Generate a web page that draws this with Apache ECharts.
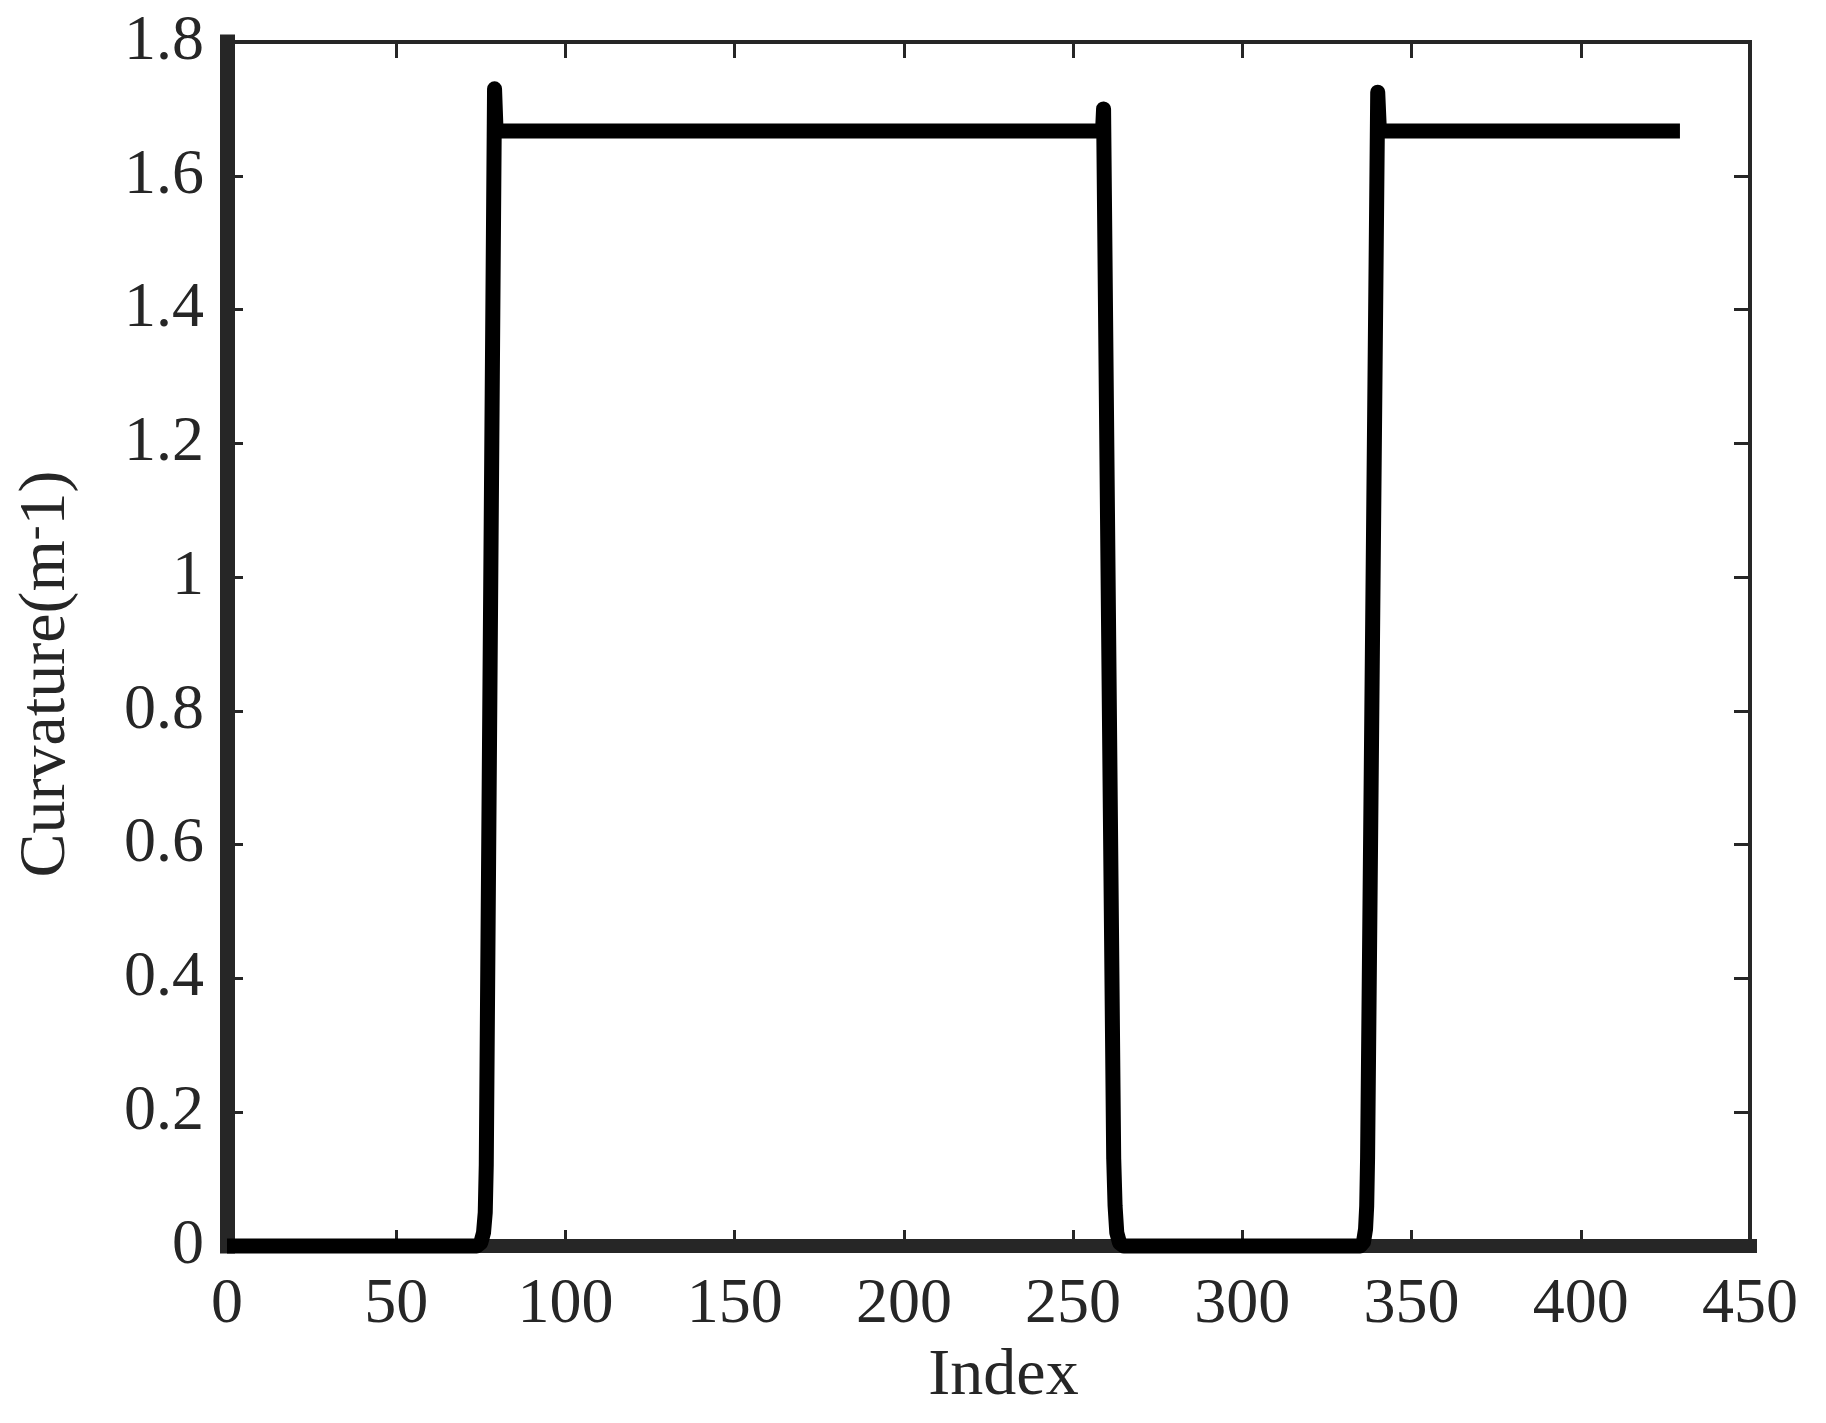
<!DOCTYPE html>
<html>
<head>
<meta charset="utf-8">
<script src="https://cdn.jsdelivr.net/npm/echarts@6/dist/echarts.min.js"></script>
<style>
	html,body{margin:0;padding:0;background:#fff;}
	#chart{width:1826px;height:1423px;}
</style>
</head>
<body>
<div id="chart"></div>
<script>
// 曲率数据 (index, curvature)
var indexData = [0, 73.8, 75.0, 75.8, 76.3, 76.6, 79.05, 79.5,
	258.7, 259.0, 262.0, 262.4, 262.9, 263.7, 265.0,
	334.8, 335.8, 336.4, 336.75, 337.0, 340.0, 340.5, 429.3];
var curvatureData = [0, 0, 0.005, 0.02, 0.05, 0.12, 1.73, 1.667,
	1.667, 1.70, 0.13, 0.06, 0.02, 0.005, 0,
	0, 0.006, 0.025, 0.06, 0.13, 1.725, 1.667, 1.667];
var xTickLabels = ['0', '50', '100', '150', '200', '250', '300', '350', '400', '450'];
var yTickLabels = ['0', '0.2', '0.4', '0.6', '0.8', '1', '1.2', '1.4', '1.6', '1.8'];

var axisColor = '#262626';
var fontFamily = '"Liberation Serif", "DejaVu Serif", serif';

function buildPoints(){
	var pts = [];
	for(var i = 0;i<indexData.length;i++){
		pts.push([indexData[i], curvatureData[i]]);
	}
	return pts;
}

function xAxisOpt(pos, lineW, showLabel){
	return {
		type: 'value',
		position: pos,
		min: 0,
		max: 450,
		interval: 50,
		name: showLabel ? 'Index' : '',
		nameLocation: 'middle',
		nameGap: 98,
		nameTextStyle: {color: axisColor, fontSize: 66, fontFamily: fontFamily, padding: [0, 0, 0, 30]},
		axisLine: {show: true, onZero: false, lineStyle: {color: axisColor, width: lineW, cap: 'square'}},
		axisTick: {show: true, inside: true, length: 16, lineStyle: {color: axisColor, width: 3}},
		axisLabel: {
			show: showLabel,
			margin: 27,
			color: axisColor,
			fontSize: 64,
			fontFamily: fontFamily,
			formatter: function(v, i){ return xTickLabels[i]; }
		},
		splitLine: {show: false}
	};
}

function yAxisOpt(pos, lineW, showLabel){
	return {
		type: 'value',
		position: pos,
		min: 0,
		max: 1.8,
		interval: 0.2,
		//上标负号用rich文本
		name: showLabel ? 'Curvature(m{sup|-}1)' : '',
		nameLocation: 'middle',
		nameGap: 147,
		nameTextStyle: {
			color: axisColor, fontSize: 66, fontFamily: fontFamily, padding: [0, 60, 0, 0],
			rich: {
				sup: {color: axisColor, fontSize: 44, fontFamily: fontFamily, verticalAlign: 'top', lineHeight: 40}
			}
		},
		axisLine: {show: true, onZero: false, lineStyle: {color: axisColor, width: lineW, cap: 'square'}},
		axisTick: {show: true, inside: true, length: 16, lineStyle: {color: axisColor, width: 3}},
		axisLabel: {
			show: showLabel,
			margin: 23,
			color: axisColor,
			fontSize: 64,
			fontFamily: fontFamily,
			formatter: function(v, i){ return yTickLabels[i]; }
		},
		splitLine: {show: false}
	};
}

var option = {
	backgroundColor: '#ffffff',
	animation: false,
	grid: {left: 227, right: 76, top: 42, bottom: 177, containLabel: false},
	xAxis: [xAxisOpt('bottom', 14, true), xAxisOpt('top', 4, false)],
	yAxis: [yAxisOpt('left', 15, true), yAxisOpt('right', 4, false)],
	series: [{
		type: 'line',
		xAxisIndex: 0,
		yAxisIndex: 0,
		data: buildPoints(),
		showSymbol: false,
		symbol: 'none',
		clip: false,
		lineStyle: {color: '#000000', width: 15, cap: 'butt', join: 'round'}
	}]
};

var myChart = echarts.init(document.getElementById('chart'));
myChart.setOption(option);
</script>
</body>
</html>
